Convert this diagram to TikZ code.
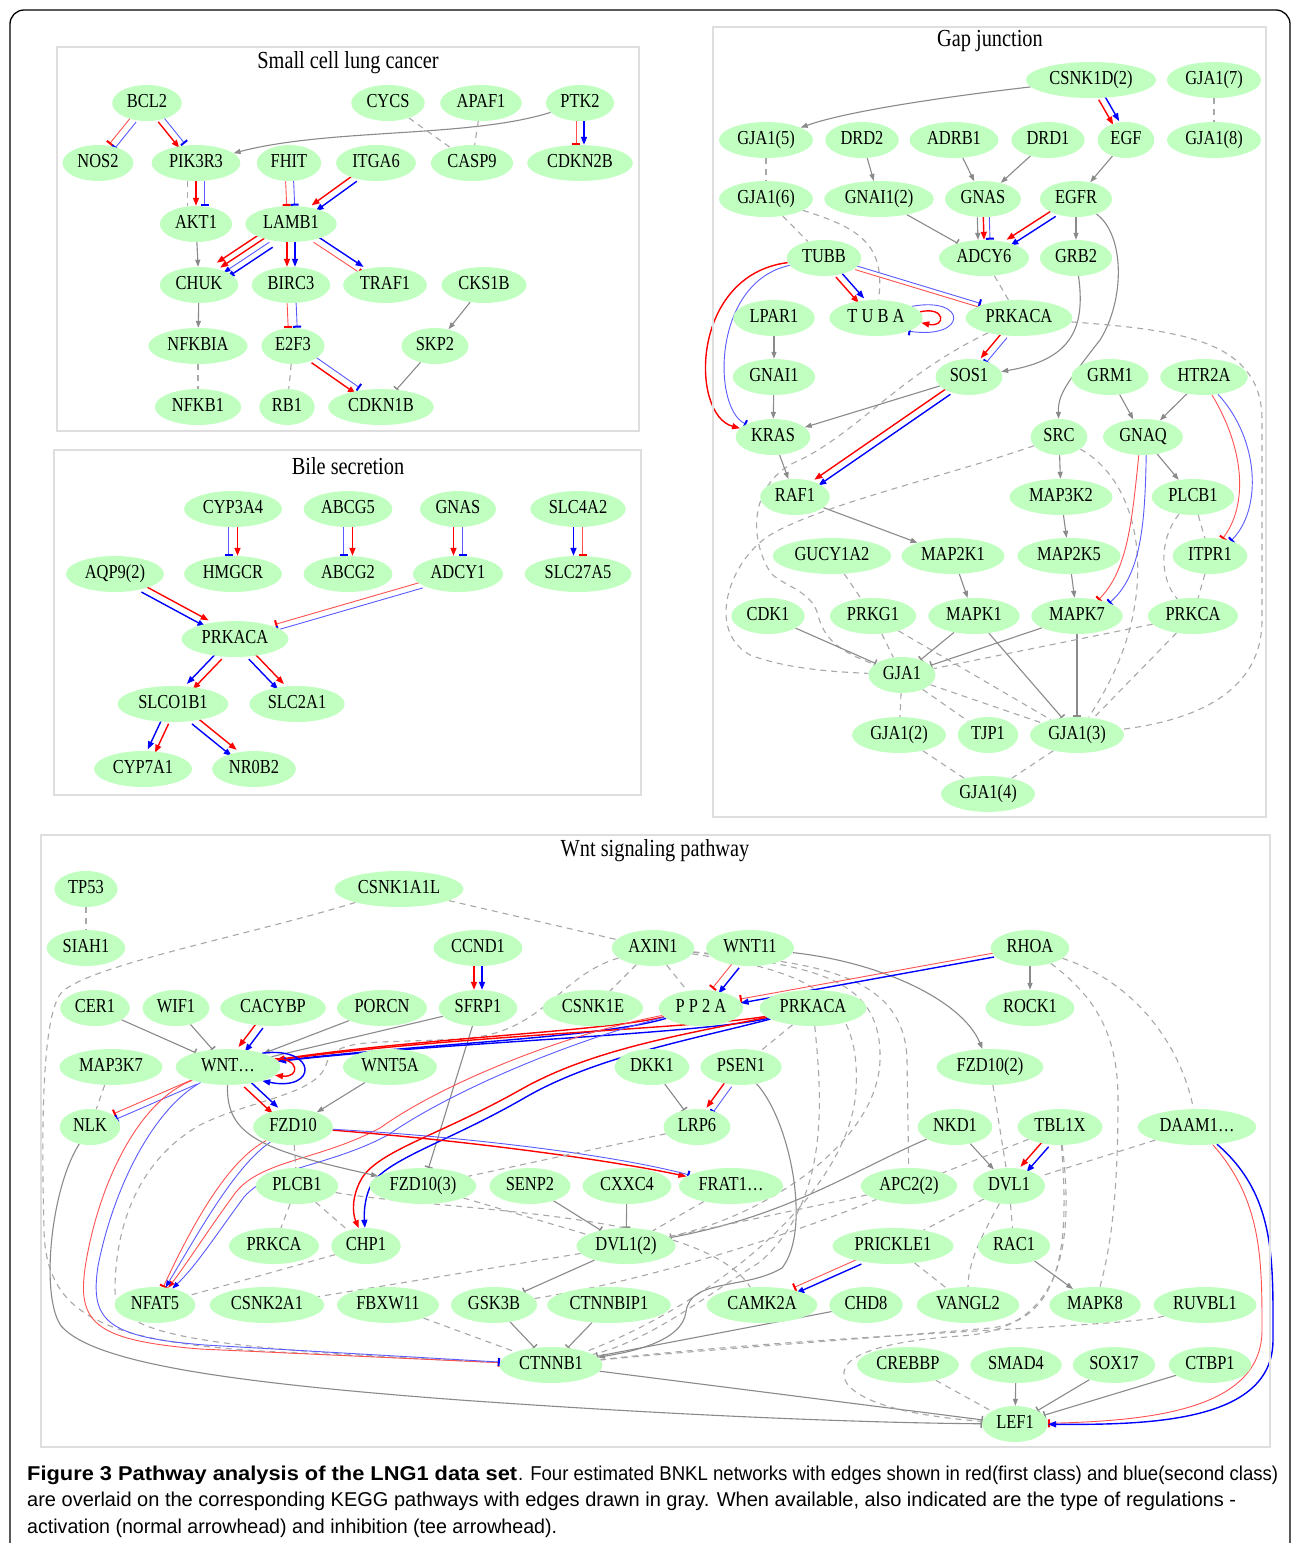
\documentclass[tikz,border=0pt]{standalone}
\usepackage{fontspec}
\usetikzlibrary{shapes.geometric,arrows.meta,calc}
\newfontfamily\nf[FakeStretch=0.83]{Liberation Serif}
\newfontfamily\capf{Liberation Sans}
\definecolor{ng}{RGB}{193,255,193}
\definecolor{eg}{RGB}{138,138,138}
\definecolor{dg}{RGB}{168,168,168}
\definecolor{pg}{RGB}{222,222,222}
\definecolor{lr}{RGB}{255,80,80}
\definecolor{lb}{RGB}{90,90,255}
\pgfdeclarelayer{bg}
\pgfdeclarelayer{edges}
\pgfsetlayers{bg,edges,main}
\tikzset{
 gene/.style={ellipse, fill=ng, inner xsep=4.5pt, inner ysep=0pt, minimum height=36pt,
   text height=13pt, text depth=3.5pt, font=\nf\fontsize{19.8}{22}\selectfont},
 ptitle/.style={font=\nf\fontsize{24.5}{26}\selectfont, inner sep=0pt},
 panel/.style={draw=pg, line width=1.2pt},
 capn/.style={anchor=base west, inner sep=0pt},
 rA/.style={draw=red, line width=1.4pt, -{Triangle[length=8pt,width=6pt]}},
 rAt/.style={draw=lr, line width=0.9pt, -{Triangle[length=7pt,width=5pt,color=red]}},
 rT/.style={draw=lr, line width=0.9pt, -{Bar[width=8pt,line width=2pt,color=red]}},
 bA/.style={draw=blue, line width=1.4pt, -{Triangle[length=8pt,width=6pt]}},
 bAt/.style={draw=lb, line width=0.9pt, -{Triangle[length=7pt,width=5pt,color=blue]}},
 bT/.style={draw=lb, line width=0.9pt, -{Bar[width=8pt,line width=2pt,color=blue]}},
 gA/.style={draw=eg, line width=1.1pt, -{Triangle[length=7pt,width=5pt]}},
 gT/.style={draw=eg, line width=1.1pt, -{Bar[width=8pt,line width=1.5pt]}},
 gL/.style={draw=eg, line width=1.1pt},
 gD/.style={draw=dg, line width=1.1pt, dash pattern=on 6pt off 5pt},
}
\newdimen\pex \newdimen\pey
\newcommand\PE[4]{%
  \pgfextractx{\pex}{\pgfpointdiff{\pgfpointanchor{#2}{center}}{\pgfpointanchor{#3}{center}}}%
  \pgfextracty{\pey}{\pgfpointdiff{\pgfpointanchor{#2}{center}}{\pgfpointanchor{#3}{center}}}%
  \pgfmathparse{atan2(\the\pey,\the\pex)}\let\peA\pgfmathresult
  \pgfmathparse{\peA+180}\let\peB\pgfmathresult
  \pgfmathparse{\peA+90}\let\peN\pgfmathresult
  \draw[#4] ($(#2.\peA)+(\peN:#1)$) -- ($(#3.\peB)+(\peN:#1)$);}
\newcommand\captext[2]{\resizebox{#1}{14.5pt}{\capf\fontsize{18}{20}\selectfont #2}}
\begin{document}
\begin{tikzpicture}[x=1pt,y=-1pt]
\useasboundingbox (0,0) rectangle (1293,1543);
\begin{pgfonlayer}{bg}
\fill[white] (0,0) rectangle (1293,1543);
\end{pgfonlayer}
\draw[line width=1.3pt, rounded corners=14pt] (10,1600) -- (10,10) -- (1290,10) -- (1290,1600);
% panels
\draw[panel] (57,47) rectangle (639,431);
\node[ptitle] at (348,63) {Small cell lung cancer};
\draw[panel] (54,450) rectangle (641,795);
\node[ptitle] at (348,466) {Bile secretion};
\draw[panel] (713,27) rectangle (1266,817);
\node[ptitle] at (990,41) {Gap junction};
\draw[panel] (41,835) rectangle (1270,1447);
\node[ptitle] at (655,851) {Wnt signaling pathway};

% ---------- Small cell lung cancer ----------
\node[gene] (sBCL2) at (147,103) {BCL2};
\node[gene] (sCYCS) at (388,103) {CYCS};
\node[gene] (sAPAF1) at (481,103) {APAF1};
\node[gene] (sPTK2) at (580,103) {PTK2};
\node[gene] (sNOS2) at (98,163) {NOS2};
\node[gene] (sPIK3R3) at (196,163) {PIK3R3};
\node[gene] (sFHIT) at (289,163) {FHIT};
\node[gene] (sITGA6) at (376,163) {ITGA6};
\node[gene] (sCASP9) at (472,163) {CASP9};
\node[gene] (sCDKN2B) at (580,163) {CDKN2B};
\node[gene] (sAKT1) at (196,224) {AKT1};
\node[gene] (sLAMB1) at (291,224) {LAMB1};
\node[gene] (sCHUK) at (199,285) {CHUK};
\node[gene] (sBIRC3) at (291,285) {BIRC3};
\node[gene] (sTRAF1) at (385,285) {TRAF1};
\node[gene] (sCKS1B) at (484,285) {CKS1B};
\node[gene] (sNFKBIA) at (198,346) {NFKBIA};
\node[gene] (sE2F3) at (293,346) {E2F3};
\node[gene] (sSKP2) at (435,346) {SKP2};
\node[gene] (sNFKB1) at (198,407) {NFKB1};
\node[gene] (sRB1) at (287,407) {RB1};
\node[gene] (sCDKN1B) at (381,407) {CDKN1B};

% ---------- Bile secretion ----------
\node[gene] (bCYP3A4) at (233,509) {CYP3A4};
\node[gene] (bABCG5) at (348,509) {ABCG5};
\node[gene] (bGNAS) at (458,509) {GNAS};
\node[gene] (bSLC4A2) at (578,509) {SLC4A2};
\node[gene] (bAQP9) at (115,574) {AQP9(2)};
\node[gene] (bHMGCR) at (233,574) {HMGCR};
\node[gene] (bABCG2) at (348,574) {ABCG2};
\node[gene] (bADCY1) at (458,574) {ADCY1};
\node[gene] (bSLC27A5) at (578,574) {SLC27A5};
\node[gene] (bPRKACA) at (235,639) {PRKACA};
\node[gene] (bSLCO1B1) at (173,704) {SLCO1B1};
\node[gene] (bSLC2A1) at (297,704) {SLC2A1};
\node[gene] (bCYP7A1) at (143,769) {CYP7A1};
\node[gene] (bNR0B2) at (254,769) {NR0B2};

% ---------- Gap junction ----------
\node[gene] (gCSNK1D) at (1091,80) {CSNK1D(2)};
\node[gene] (gGJA7) at (1214,80) {GJA1(7)};
\node[gene] (gGJA5) at (766,140) {GJA1(5)};
\node[gene] (gDRD2) at (862,140) {DRD2};
\node[gene] (gADRB1) at (954,140) {ADRB1};
\node[gene] (gDRD1) at (1048,140) {DRD1};
\node[gene] (gEGF) at (1126,140) {EGF};
\node[gene] (gGJA8) at (1214,140) {GJA1(8)};
\node[gene] (gGJA6) at (766,199) {GJA1(6)};
\node[gene] (gGNAI12) at (879,199) {GNAI1(2)};
\node[gene] (gGNAS) at (983,199) {GNAS};
\node[gene] (gEGFR) at (1076,199) {EGFR};
\node[gene] (gTUBB) at (824,258) {TUBB};
\node[gene] (gADCY6) at (984,258) {ADCY6};
\node[gene] (gGRB2) at (1076,258) {GRB2};
\node[gene] (gLPAR1) at (774,318) {LPAR1};
\node[gene] (gTUBA) at (876,318) {T U B A};
\node[gene] (gPRKACA) at (1019,318) {PRKACA};
\node[gene] (gGNAI1) at (774,377) {GNAI1};
\node[gene] (gSOS1) at (969,377) {SOS1};
\node[gene] (gGRM1) at (1110,377) {GRM1};
\node[gene] (gHTR2A) at (1204,377) {HTR2A};
\node[gene] (gKRAS) at (773,437) {KRAS};
\node[gene] (gSRC) at (1059,437) {SRC};
\node[gene] (gGNAQ) at (1143,437) {GNAQ};
\node[gene] (gRAF1) at (795,497) {RAF1};
\node[gene] (gMAP3K2) at (1061,497) {MAP3K2};
\node[gene] (gPLCB1) at (1193,497) {PLCB1};
\node[gene] (gGUCY1A2) at (832,556) {GUCY1A2};
\node[gene] (gMAP2K1) at (953,556) {MAP2K1};
\node[gene] (gMAP2K5) at (1069,556) {MAP2K5};
\node[gene] (gITPR1) at (1210,556) {ITPR1};
\node[gene] (gCDK1) at (768,616) {CDK1};
\node[gene] (gPRKG1) at (873,616) {PRKG1};
\node[gene] (gMAPK1) at (974,616) {MAPK1};
\node[gene] (gMAPK7) at (1077,616) {MAPK7};
\node[gene] (gPRKCA) at (1193,616) {PRKCA};
\node[gene] (gGJA1) at (902,675) {GJA1};
\node[gene] (gGJA2) at (899,735) {GJA1(2)};
\node[gene] (gTJP1) at (988,735) {TJP1};
\node[gene] (gGJA3) at (1077,735) {GJA1(3)};
\node[gene] (gGJA4) at (988,794) {GJA1(4)};

% ---------- Wnt signaling pathway ----------
\node[gene] (wTP53) at (86,889) {TP53};
\node[gene] (wCSNK1A1L) at (399,889) {CSNK1A1L};
\node[gene] (wSIAH1) at (86,948) {SIAH1};
\node[gene] (wCCND1) at (478,948) {CCND1};
\node[gene] (wAXIN1) at (653,948) {AXIN1};
\node[gene] (wWNT11) at (750,948) {WNT11};
\node[gene] (wRHOA) at (1030,948) {RHOA};
\node[gene] (wCER1) at (95,1008) {CER1};
\node[gene] (wWIF1) at (176,1008) {WIF1};
\node[gene] (wCACYBP) at (273,1008) {CACYBP};
\node[gene] (wPORCN) at (382,1008) {PORCN};
\node[gene] (wSFRP1) at (478,1008) {SFRP1};
\node[gene] (wCSNK1E) at (593,1008) {CSNK1E};
\node[gene] (wPP2A) at (701,1008) {P P 2 A};
\node[gene] (wPRKACA) at (813,1008) {PRKACA};
\node[gene] (wROCK1) at (1030,1008) {ROCK1};
\node[gene] (wMAP3K7) at (111,1067) {MAP3K7};
\node[gene, minimum width=105pt] (wWNT) at (228,1067) {WNT…};
\node[gene] (wWNT5A) at (390,1067) {WNT5A};
\node[gene] (wDKK1) at (652,1067) {DKK1};
\node[gene] (wPSEN1) at (741,1067) {PSEN1};
\node[gene] (wFZD102) at (990,1067) {FZD10(2)};
\node[gene] (wNLK) at (90,1127) {NLK};
\node[gene] (wFZD10) at (293,1127) {FZD10};
\node[gene] (wLRP6) at (697,1127) {LRP6};
\node[gene] (wNKD1) at (955,1127) {NKD1};
\node[gene] (wTBL1X) at (1060,1127) {TBL1X};
\node[gene] (wDAAM1) at (1197,1127) {DAAM1…};
\node[gene] (wPLCB1) at (297,1186) {PLCB1};
\node[gene] (wFZD103) at (423,1186) {FZD10(3)};
\node[gene] (wSENP2) at (530,1186) {SENP2};
\node[gene] (wCXXC4) at (627,1186) {CXXC4};
\node[gene] (wFRAT1) at (731,1186) {FRAT1…};
\node[gene] (wAPC22) at (909,1186) {APC2(2)};
\node[gene] (wDVL1) at (1009,1186) {DVL1};
\node[gene] (wPRKCA) at (274,1246) {PRKCA};
\node[gene] (wCHP1) at (366,1246) {CHP1};
\node[gene] (wDVL12) at (626,1246) {DVL1(2)};
\node[gene] (wPRICKLE1) at (893,1246) {PRICKLE1};
\node[gene] (wRAC1) at (1014,1246) {RAC1};
\node[gene] (wNFAT5) at (155,1305) {NFAT5};
\node[gene] (wCSNK2A1) at (267,1305) {CSNK2A1};
\node[gene] (wFBXW11) at (388,1305) {FBXW11};
\node[gene] (wGSK3B) at (494,1305) {GSK3B};
\node[gene] (wCTNNBIP1) at (609,1305) {CTNNBIP1};
\node[gene] (wCAMK2A) at (762,1305) {CAMK2A};
\node[gene] (wCHD8) at (866,1305) {CHD8};
\node[gene] (wVANGL2) at (968,1305) {VANGL2};
\node[gene] (wMAPK8) at (1095,1305) {MAPK8};
\node[gene] (wRUVBL1) at (1205,1305) {RUVBL1};
\node[gene] (wCTNNB1) at (551,1365) {CTNNB1};
\node[gene] (wCREBBP) at (908,1365) {CREBBP};
\node[gene] (wSMAD4) at (1016,1365) {SMAD4};
\node[gene] (wSOX17) at (1114,1365) {SOX17};
\node[gene] (wCTBP1) at (1210,1365) {CTBP1};
\node[gene] (wLEF1) at (1015,1424) {LEF1};

% caption
\node[capn] (cap1a) at (27,1480) {\captext{490pt}{\textbf{Figure 3 Pathway analysis of the LNG1 data set}}};
\node[capn] (cap1b) at (518,1480) {\captext{760pt}{. Four estimated BNKL networks with edges shown in red(first class) and blue(second class)}};
\node[capn] (cap2) at (27,1506) {\captext{1209pt}{are overlaid on the corresponding KEGG pathways with edges drawn in gray. When available, also indicated are the type of regulations -}};
\node[capn] (cap3) at (27,1533) {\captext{530pt}{activation (normal arrowhead) and inhibition (tee arrowhead).}};

\begin{pgfonlayer}{edges}
% ---- SCLC edges
\PE{-3.5pt}{sBCL2}{sNOS2}{rT} \PE{3.5pt}{sBCL2}{sNOS2}{bT}
\PE{-3.5pt}{sBCL2}{sPIK3R3}{rA} \PE{3.5pt}{sBCL2}{sPIK3R3}{bT}
\draw[gA] (sPTK2) .. controls (470,138) and (330,128) .. (sPIK3R3);
\PE{-4pt}{sPTK2}{sCDKN2B}{rT} \PE{4pt}{sPTK2}{sCDKN2B}{bA}
\draw[gD] (sCYCS) -- (sCASP9);
\draw[gD] (sAPAF1) -- (sCASP9);
\PE{-8.5pt}{sPIK3R3}{sAKT1}{gD} \PE{0pt}{sPIK3R3}{sAKT1}{rA} \PE{8.5pt}{sPIK3R3}{sAKT1}{bT}
\PE{-4pt}{sFHIT}{sLAMB1}{rT} \PE{4pt}{sFHIT}{sLAMB1}{bT}
\PE{-3.5pt}{sITGA6}{sLAMB1}{rA} \PE{3.5pt}{sITGA6}{sLAMB1}{bA}
\draw[gA] (sAKT1) -- (sCHUK);
\PE{-9pt}{sLAMB1}{sCHUK}{rA} \PE{-3pt}{sLAMB1}{sCHUK}{rA}
\PE{3pt}{sLAMB1}{sCHUK}{bAt} \PE{9pt}{sLAMB1}{sCHUK}{bA}
\PE{-4pt}{sLAMB1}{sBIRC3}{rA} \PE{4pt}{sLAMB1}{sBIRC3}{bA}
\PE{-3.5pt}{sLAMB1}{sTRAF1}{rT} \PE{3.5pt}{sLAMB1}{sTRAF1}{bA}
\PE{-4.5pt}{sBIRC3}{sE2F3}{rT} \PE{4.5pt}{sBIRC3}{sE2F3}{bT}
\draw[gA] (sCHUK) -- (sNFKBIA);
\draw[gA] (sCKS1B) -- (sSKP2);
\draw[gD] (sNFKBIA) -- (sNFKB1);
\draw[gD] (sE2F3) -- (sRB1);
\PE{-3.5pt}{sE2F3}{sCDKN1B}{rA} \PE{3.5pt}{sE2F3}{sCDKN1B}{bT}
\draw[gT] (sSKP2) -- (sCDKN1B);

% ---- Bile edges
\PE{-4.5pt}{bCYP3A4}{bHMGCR}{bT} \PE{4.5pt}{bCYP3A4}{bHMGCR}{rA}
\PE{-4.5pt}{bABCG5}{bABCG2}{bT} \PE{4.5pt}{bABCG5}{bABCG2}{rA}
\PE{-4.5pt}{bGNAS}{bADCY1}{rA} \PE{4.5pt}{bGNAS}{bADCY1}{bT}
\PE{-4.5pt}{bSLC4A2}{bSLC27A5}{bA} \PE{4.5pt}{bSLC4A2}{bSLC27A5}{rT}
\PE{-3.5pt}{bAQP9}{bPRKACA}{bA} \PE{3.5pt}{bAQP9}{bPRKACA}{rA}
\PE{-3pt}{bADCY1}{bPRKACA}{rT} \PE{3pt}{bADCY1}{bPRKACA}{bT}
\PE{-4pt}{bPRKACA}{bSLCO1B1}{bA} \PE{4pt}{bPRKACA}{bSLCO1B1}{rA}
\PE{-4pt}{bPRKACA}{bSLC2A1}{bA} \PE{4pt}{bPRKACA}{bSLC2A1}{rA}
\PE{-4pt}{bSLCO1B1}{bCYP7A1}{bA} \PE{4pt}{bSLCO1B1}{bCYP7A1}{rA}
\PE{-4pt}{bSLCO1B1}{bNR0B2}{bA} \PE{4pt}{bSLCO1B1}{bNR0B2}{rA}

% ---- Gap junction edges
\draw[gA] (gCSNK1D) .. controls (960,95) and (850,110) .. (gGJA5);
\PE{-3.5pt}{gCSNK1D}{gEGF}{rA} \PE{3.5pt}{gCSNK1D}{gEGF}{bA}
\draw[gD] (gGJA7) -- (gGJA8);
\draw[gD] (gGJA5) -- (gGJA6);
\draw[gA] (gDRD2) -- (gGNAI12);
\draw[gA] (gADRB1) -- (gGNAS);
\draw[gA] (gDRD1) -- (gGNAS);
\draw[gA] (gEGF) -- (gEGFR);
\draw[gD] (gGJA6) -- (gTUBB);
\draw[gD] (gGJA6) .. controls (860,228) and (886,245) .. (gTUBA);
\draw[gT] (gGNAI12) -- (gADCY6);
\PE{-6pt}{gGNAS}{gADCY6}{gA} \PE{0pt}{gGNAS}{gADCY6}{rA} \PE{6pt}{gGNAS}{gADCY6}{bT}
\PE{-3.5pt}{gEGFR}{gADCY6}{rA} \PE{3.5pt}{gEGFR}{gADCY6}{bA}
\draw[gA] (gEGFR) -- (gGRB2);
\draw[gA] (gEGFR) .. controls (1125,235) and (1125,300) .. (1100,340) .. controls (1065,385) and (1058,395) .. (gSRC);
\draw[gA] (gGRB2) .. controls (1086,330) and (1070,360) .. (gSOS1);
\PE{-3.5pt}{gTUBB}{gTUBA}{rA} \PE{3.5pt}{gTUBB}{gTUBA}{bA}
\PE{-2pt}{gTUBB}{gPRKACA}{rT} \PE{2pt}{gTUBB}{gPRKACA}{bT}
\draw[rA] (gTUBB) .. controls (690,275) and (690,415) .. (gKRAS);
\draw[bT] (gTUBB) .. controls (712,282) and (712,408) .. (gKRAS);
\draw[rA] (gTUBA.8) .. controls (946,306) and (946,328) .. (gTUBA.-6);
\draw[bT] (gTUBA.18) .. controls (968,296) and (968,340) .. (gTUBA.-22);
\draw[gD] (gADCY6) -- (gPRKACA);
\PE{-3.5pt}{gPRKACA}{gSOS1}{rA} \PE{3.5pt}{gPRKACA}{gSOS1}{bT}
\draw[gD] (gPRKACA) .. controls (900,375) and (860,430) .. (800,460) .. controls (755,478) and (745,530) .. (770,572) .. controls (780,585) and (812,590) .. (818,615) .. controls (825,645) and (850,655) .. (gGJA1);
\draw[gD] (gSRC) .. controls (950,475) and (820,505) .. (770,535) .. controls (730,560) and (705,630) .. (750,655) .. controls (790,670) and (840,672) .. (gGJA1);
\draw[gD] (gPRKACA) .. controls (1180,330) and (1262,340) .. (1262,420) -- (1262,620) .. controls (1262,700) and (1180,722) .. (gGJA3);
\draw[gA] (gLPAR1) -- (gGNAI1);
\draw[gA] (gGNAI1) -- (gKRAS);
\draw[gA] (gSOS1) -- (gKRAS);
\PE{-3.5pt}{gSOS1}{gRAF1}{rA} \PE{3.5pt}{gSOS1}{gRAF1}{bA}
\draw[gA] (gKRAS) -- (gRAF1);
\draw[gA] (gGRM1) -- (gGNAQ);
\draw[gA] (gHTR2A) -- (gGNAQ);
\draw[rT] (gHTR2A.-66) .. controls (1245,450) and (1248,505) .. (gITPR1.54);
\draw[bT] (gHTR2A.-51) .. controls (1260,440) and (1262,510) .. (gITPR1.36);
\draw[gA] (gSRC) -- (gMAP3K2);
\draw[gD] (gSRC) .. controls (1135,480) and (1150,560) .. (1128,635) .. controls (1118,670) and (1100,700) .. (gGJA3);
\draw[gA] (gGNAQ) -- (gPLCB1);
\draw[rT] (gGNAQ.-103) .. controls (1132,520) and (1128,570) .. (gMAPK7.37);
\draw[bT] (gGNAQ.-80) .. controls (1145,520) and (1142,575) .. (gMAPK7.22);
\draw[gD] (gPLCB1) -- (gITPR1);
\draw[gD] (gPLCB1) .. controls (1158,540) and (1160,580) .. (gPRKCA);
\draw[gD] (gITPR1) -- (gPRKCA);
\draw[gA] (gRAF1) -- (gMAP2K1);
\draw[gA] (gMAP3K2) -- (gMAP2K5);
\draw[gD] (gGUCY1A2) -- (gPRKG1);
\draw[gA] (gMAP2K1) -- (gMAPK1);
\draw[gA] (gMAP2K5) -- (gMAPK7);
\draw[gT] (gCDK1) -- (gGJA1);
\draw[gD] (gPRKG1) -- (gGJA1);
\draw[gD] (gPRKG1) -- (gGJA3);
\draw[gT] (gMAPK1) -- (gGJA1);
\draw[gT] (gMAPK1) -- (gGJA3);
\draw[gT] (gMAPK7) -- (gGJA1);
\draw[gT] (gMAPK7) -- (gGJA3);
\draw[gD] (gPRKCA) -- (gGJA1);
\draw[gD] (gPRKCA) -- (gGJA3);
\draw[gD] (gGJA1) -- (gGJA2);
\draw[gD] (gGJA1) -- (gTJP1);
\draw[gD] (gGJA1) -- (gGJA3);
\draw[gD] (gGJA2) -- (gGJA4);
\draw[gD] (gGJA3) -- (gGJA4);

% ---- Wnt edges
\draw[gD] (wTP53) -- (wSIAH1);
\draw[gD] (wCSNK1A1L) .. controls (250,935) and (90,965) .. (62,992) .. controls (40,1015) and (42,1150) .. (44,1230) .. controls (46,1320) and (110,1345) .. (300,1353) -- (wCTNNB1);
\draw[gD] (wCSNK1A1L) -- (wAXIN1);
\PE{-4pt}{wCCND1}{wSFRP1}{rA} \PE{4pt}{wCCND1}{wSFRP1}{bA}
\draw[gD] (wAXIN1) -- (wCSNK1E);
\draw[gD] (wAXIN1) -- (wPP2A);
\draw[gD] (wAXIN1) .. controls (560,975) and (545,1030) .. (470,1038) .. controls (380,1045) and (335,1035) .. (326,1065) .. controls (316,1095) and (250,1100) .. (200,1125) .. controls (130,1165) and (115,1240) .. (115,1290) .. controls (115,1335) and (190,1348) .. (wCTNNB1);
\draw[gD] (wAXIN1) .. controls (800,962) and (905,968) .. (907,1060) -- (wAPC22);
\draw[gD] (wAXIN1) .. controls (820,966) and (882,980) .. (880,1060) .. controls (878,1140) and (770,1215) .. (wDVL12);
\draw[gD] (wAXIN1) .. controls (800,970) and (862,990) .. (856,1090) .. controls (850,1190) and (720,1300) .. (wCTNNB1);
\PE{-4pt}{wWNT11}{wPP2A}{rT} \PE{4pt}{wWNT11}{wPP2A}{bA}
\draw[gA] (wWNT11) .. controls (880,962) and (962,1000) .. (wFZD102);
\PE{-2pt}{wRHOA}{wPP2A}{rT} \PE{2pt}{wRHOA}{wPP2A}{bA}
\draw[gA] (wRHOA) -- (wROCK1);
\draw[gD] (wRHOA) .. controls (1100,1000) and (1118,1040) .. (1118,1100) .. controls (1118,1200) and (1110,1250) .. (wMAPK8);
\draw[gD] (wRHOA) .. controls (1130,980) and (1180,1040) .. (wDAAM1);
\draw[gT] (wCER1) -- (wWNT);
\draw[gT] (wWIF1) -- (wWNT);
\PE{-4pt}{wCACYBP}{wWNT}{rA} \PE{4pt}{wCACYBP}{wWNT}{bA}
\draw[gA] (wPORCN) -- (wWNT);
\draw[gL] (wSFRP1) -- (wWNT);
\draw[gT] (wSFRP1) -- (wFZD103);
\draw[rA] (wPP2A) .. controls (600,1032) and (420,1038) .. (wWNT);
\draw[bA] (wPP2A) .. controls (600,1038) and (420,1044) .. (wWNT);
\draw[rA] (wPRKACA) .. controls (700,1028) and (450,1036) .. (wWNT);
\draw[bA] (wPRKACA) .. controls (700,1034) and (450,1042) .. (wWNT);
\draw[rA] (wWNT.10) .. controls (300,1058) and (300,1078) .. (wWNT.-10);
\draw[bA] (wWNT.22) .. controls (318,1046) and (318,1092) .. (wWNT.-22);
\PE{-3pt}{wWNT}{wNLK}{rT} \PE{3pt}{wWNT}{wNLK}{bT}
\PE{-4pt}{wWNT}{wFZD10}{rA} \PE{4pt}{wWNT}{wFZD10}{bA}
\draw[rT] (wWNT) .. controls (140,1100) and (100,1180) .. (86,1262) .. controls (76,1322) and (92,1340) .. (200,1349) -- (wCTNNB1);
\draw[bT] (wWNT) .. controls (152,1110) and (113,1190) .. (98,1266) .. controls (90,1320) and (105,1337) .. (205,1345) -- (wCTNNB1);
\draw[rAt] (wPP2A) .. controls (560,1035) and (440,1085) .. (380,1128) .. controls (320,1160) and (262,1160) .. (236,1192) .. controls (208,1230) and (188,1262) .. (wNFAT5);
\draw[bAt] (wPP2A) .. controls (566,1042) and (448,1093) .. (388,1135) .. controls (328,1167) and (270,1167) .. (244,1197) .. controls (216,1235) and (196,1266) .. (wNFAT5);
\draw[rT] (wFZD10) .. controls (228,1160) and (192,1225) .. (wNFAT5);
\draw[bAt] (wFZD10) .. controls (236,1165) and (200,1230) .. (wNFAT5);
\draw[rA] (wPRKACA) .. controls (680,1035) and (590,1050) .. (520,1090) .. controls (440,1135) and (380,1150) .. (362,1178) .. controls (352,1195) and (352,1212) .. (wCHP1);
\draw[bA] (wPRKACA) .. controls (686,1041) and (596,1057) .. (526,1097) .. controls (450,1141) and (392,1157) .. (372,1183) .. controls (364,1198) and (364,1214) .. (wCHP1);
\draw[rA] (wFZD10) .. controls (470,1141) and (610,1160) .. (wFRAT1);
\draw[bT] (wFZD10) .. controls (470,1137) and (614,1155) .. (wFRAT1);
\draw[gA] (wWNT5A) -- (wFZD10);
\draw[gA] (wWNT) .. controls (226,1135) and (260,1150) .. (wFZD103);
\draw[gD] (wMAP3K7) -- (wNLK);
\draw[gT] (wNLK) .. controls (50,1190) and (40,1300) .. (62,1327) .. controls (95,1362) and (220,1382) .. (460,1400) .. controls (700,1417) and (880,1423) .. (wLEF1);
\draw[gT] (wCTNNB1) -- (wLEF1);
\draw[gT] (wDKK1) -- (wLRP6);
\PE{-4pt}{wPSEN1}{wLRP6}{rA} \PE{4pt}{wPSEN1}{wLRP6}{bT}
\draw[gA] (wPSEN1) .. controls (790,1120) and (812,1230) .. (782,1268) .. controls (745,1290) and (690,1278) .. (686,1312) .. controls (682,1342) and (630,1352) .. (wCTNNB1);
\draw[gD] (wLRP6) -- (wFZD103);
\draw[gD] (wPRKACA) -- (wPSEN1);
\draw[gD] (wPRKACA) .. controls (822,1100) and (830,1200) .. (760,1262) .. controls (700,1300) and (650,1340) .. (wCTNNB1);
\draw[gD] (wFZD102) -- (wDVL1);
\draw[gA] (wNKD1) -- (wDVL1);
\draw[gT] (wNKD1) .. controls (850,1172) and (790,1215) .. (wDVL12);
\PE{-4pt}{wTBL1X}{wDVL1}{rA} \PE{4pt}{wTBL1X}{wDVL1}{bA}
\draw[gD] (wTBL1X) -- (wAPC22);
\draw[gD] (wTBL1X) .. controls (1068,1230) and (1068,1320) .. (990,1328) .. controls (850,1340) and (700,1350) .. (wCTNNB1);
\draw[gD] (wTBL1X) .. controls (1075,1250) and (1060,1330) .. (960,1336) .. controls (870,1342) and (830,1360) .. (848,1385) .. controls (870,1410) and (940,1418) .. (wLEF1);
\draw[gD] (wDAAM1) -- (wDVL1);
\draw[rT] (wDAAM1) .. controls (1262,1200) and (1262,1260) .. (1262,1330) .. controls (1262,1410) and (1150,1421) .. (wLEF1);
\draw[bA] (wDAAM1) .. controls (1276,1195) and (1273,1260) .. (1273,1340) .. controls (1273,1422) and (1150,1425) .. (wLEF1);
\draw[gD] (wAPC22) -- (wDVL12);
\draw[gD] (wGSK3B) .. controls (650,1280) and (790,1235) .. (wAPC22);
\draw[gD] (wDVL1) -- (wPRICKLE1);
\draw[gD] (wDVL1) -- (wRAC1);
\draw[gD] (wDVL1) .. controls (985,1230) and (968,1260) .. (wVANGL2);
\draw[gD] (wPRICKLE1) -- (wVANGL2);
\PE{-3pt}{wPRICKLE1}{wCAMK2A}{rT} \PE{3pt}{wPRICKLE1}{wCAMK2A}{bA}
\draw[gA] (wRAC1) -- (wMAPK8);
\draw[gD] (wRUVBL1) .. controls (1120,1328) and (850,1332) .. (wCTNNB1);
\draw[gT] (wCHD8) -- (wCTNNB1);
\draw[gD] (wCREBBP) -- (wLEF1);
\draw[gA] (wSMAD4) -- (wLEF1);
\draw[gT] (wSOX17) -- (wLEF1);
\draw[gT] (wCTBP1) -- (wLEF1);
\draw[gT] (wSENP2) -- (wDVL12);
\draw[gT] (wCXXC4) -- (wDVL12);
\draw[gD] (wFRAT1) -- (wDVL12);
\draw[gT] (wDVL12) -- (wGSK3B);
\draw[gD] (wDVL12) -- (wCSNK2A1);
\draw[gD] (wFZD103) -- (wDVL12);
\draw[gD] (wFZD10) -- (wPLCB1);
\draw[gD] (wPLCB1) -- (wPRKCA);
\draw[gD] (wPLCB1) -- (wCHP1);
\draw[gD] (wPLCB1) .. controls (450,1212) and (700,1210) .. (wCAMK2A);
\draw[gD] (wCHP1) -- (wNFAT5);
\draw[gD] (wFBXW11) -- (wCTNNB1);
\draw[gT] (wGSK3B) -- (wCTNNB1);
\draw[gT] (wCTNNBIP1) -- (wCTNNB1);
\end{pgfonlayer}
\end{tikzpicture}
\end{document}
